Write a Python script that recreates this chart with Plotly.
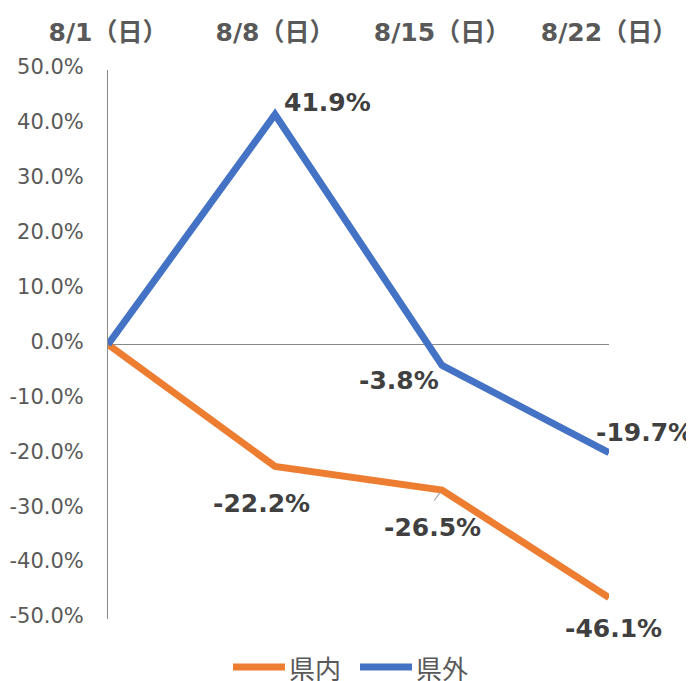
import plotly.graph_objects as go

# Data
dates = ['8/1（日）', '8/8（日）', '8/15（日）', '8/22（日）']
series_names = ['県内', '県外']
kennai = [0.0, -0.222, -0.265, -0.461]   # 県内
kengai = [0.0, 0.419, -0.038, -0.197]    # 県外
y_ticks = [0.5, 0.4, 0.3, 0.2, 0.1, 0.0, -0.1, -0.2, -0.3, -0.4, -0.5]
y_ticktext = [f'{v * 100:.1f}%' for v in y_ticks]

ORANGE = '#ED7D31'
BLUE = '#4472C4'
GRAY = '#595959'
FONT = 'DejaVu Sans, Noto Sans CJK JP, sans-serif'
CJK_FONT = 'Noto Sans CJK JP, sans-serif'

x_idx = list(range(len(dates)))

fig = go.Figure()
for name, vals, color in zip(series_names, (kennai, kengai), (ORANGE, BLUE)):
    fig.add_trace(go.Scatter(
        x=x_idx, y=vals, mode='lines', name=name, showlegend=False,
        line=dict(color=color, width=7),
    ))

# data labels (index 0 not labelled); pixel shifts per point
label_shift_kengai = {1: (52, 12), 2: (-43, -15), 3: (35, 20)}
label_shift_kennai = {1: (-14, -37), 2: (-10, -38), 3: (4, -31)}

for series, shifts in ((kengai, label_shift_kengai), (kennai, label_shift_kennai)):
    for i, (dx, dy) in shifts.items():
        fig.add_annotation(
            x=x_idx[i], y=series[i], text=f'{series[i] * 100:.1f}%',
            showarrow=False, xshift=dx, yshift=dy,
            font=dict(family=FONT, size=25, color='#404040', weight='bold'),
        )

# little leader line for -26.5%
fig.add_annotation(
    x=x_idx[2], y=kennai[2], text='', showarrow=True,
    ax=-9, ay=12, arrowhead=0, arrowwidth=1.2, arrowcolor='#A6A6A6',
    standoff=3,
)

# legend drawn by hand so the line samples are as long as the original's
legend_pos = [(0.2495, 0.3533), (0.503, 0.6068)]   # paper x of each sample line
legend_y = -0.0874
for name, color, (x0, x1) in zip(series_names, (ORANGE, BLUE), legend_pos):
    fig.add_shape(
        type='line', xref='paper', yref='paper',
        x0=x0, x1=x1, y0=legend_y, y1=legend_y,
        line=dict(color=color, width=7),
    )
    fig.add_annotation(
        xref='paper', yref='paper', x=x1 + 0.004, y=legend_y,
        xanchor='left', yanchor='middle', text=name, showarrow=False,
        height=28, valign='middle',
        font=dict(family=CJK_FONT, size=26, color=GRAY),
    )

# page body has an 8px margin, so the figure is sized/margined to suit
fig.update_layout(
    width=686, height=673,
    plot_bgcolor='white', paper_bgcolor='white',
    margin=dict(l=100, r=85, t=62, b=62),
    showlegend=False,
)

fig.update_xaxes(
    range=[0, len(dates) - 1], side='top', automargin=False,
    tickvals=x_idx, ticktext=dates,
    showgrid=False, showline=False, zeroline=False,
    ticks='', ticklabelstandoff=23,
    tickfont=dict(family=FONT, size=25, color=GRAY, weight='bold'),
)
fig.update_yaxes(
    range=[-0.5, 0.5], tickvals=y_ticks, ticktext=y_ticktext, automargin=False,
    showgrid=False, showline=True, linecolor='#898989', linewidth=1,
    zeroline=True, zerolinecolor='#898989', zerolinewidth=1,
    ticks='', ticklabelstandoff=19, ticklabelshift=-3,
    tickfont=dict(family=FONT, size=21, color=GRAY),
)

fig.write_html('out.html')
